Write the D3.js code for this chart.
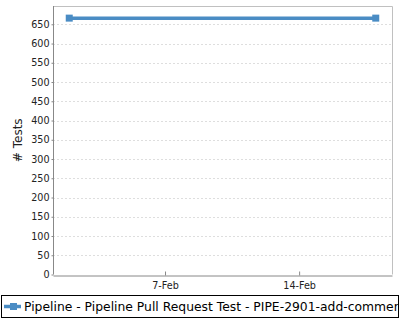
<!DOCTYPE html>
<html lang="en">
<head>
<meta charset="utf-8">
<script src="https://d3js.org/d3.v7.min.js"></script>
<style>
  body { margin: 0; background: #fff; }
  svg { display: block; font-family: "DejaVu Sans", sans-serif; }
</style>
</head>
<body>
<div id="chart"></div>
<script>
// data
const runDates = ["2019-02-02", "2019-02-18"];
const testCounts = [666, 666];
const seriesName = "Pipeline - Pipeline Pull Request Test - PIPE-2901-add-comments";
const xTickDates = ["2019-02-07", "2019-02-14"];
const yTickValues = [0, 50, 100, 150, 200, 250, 300, 350, 400, 450, 500, 550, 600, 650];
const yLabel = "# Tests";

const width = 400, height = 320;
const plot = { left: 53, top: 6, right: 392, bottom: 274.5 };
const blue = "#4a8cc4";

const parse = d3.timeParse("%Y-%m-%d");
const points = runDates.map((d, i) => ({ date: parse(d), value: testCounts[i] }));

const svg = d3.select("#chart").append("svg")
    .attr("width", width)
    .attr("height", height);

// ~5% margin on each side of the date range, like the original
const ext = d3.extent(points, d => d.date);
const pad = (ext[1] - ext[0]) * 0.053;
const x = d3.scaleTime()
    .domain([new Date(+ext[0] - pad), new Date(+ext[1] + pad)])
    .range([plot.left, plot.right]);
const y = d3.scaleLinear()
    .domain([0, 697.5])
    .range([plot.bottom, plot.top]);

// grid
svg.append("g")
    .selectAll("line")
    .data(yTickValues.filter(v => v > 0))
    .join("line")
    .attr("x1", plot.left).attr("x2", plot.right)
    .attr("y1", d => Math.round(y(d)) + 0.5).attr("y2", d => Math.round(y(d)) + 0.5)
    .attr("stroke", "#dedede")
    .attr("stroke-dasharray", "2,2");

// top + right border
svg.append("path")
    .attr("d", `M${plot.left},${plot.top + 0.5}H${plot.right + 0.5}V${plot.bottom}`)
    .attr("fill", "none")
    .attr("stroke", "#c0c0c0");

// y axis
const yAxis = svg.append("g")
    .attr("transform", `translate(${plot.left + 0.5},0)`)
    .call(d3.axisLeft(y).tickValues(yTickValues).tickSize(2).tickPadding(2).tickSizeOuter(0));
yAxis.select(".domain").attr("stroke", "#888").attr("d", `M0,${plot.top}V${plot.bottom}`);
yAxis.selectAll(".tick line").attr("stroke", "#888");
yAxis.selectAll("text").attr("font-size", 9.6).attr("fill", "#222")
    .attr("font-family", "DejaVu Sans");

// x axis
const xAxis = svg.append("g")
    .attr("transform", `translate(0,${Math.round(plot.bottom) + 0.5})`)
    .call(d3.axisBottom(x)
        .tickValues(xTickDates.map(parse))
        .tickFormat(d3.timeFormat("%-d-%b"))
        .tickSize(2).tickPadding(5).tickSizeOuter(0));
xAxis.select(".domain").attr("stroke", "#888");
xAxis.selectAll(".tick line").attr("stroke", "#888").attr("y2", -4);
xAxis.selectAll("text").attr("font-size", 9.6).attr("fill", "#222")
    .attr("font-family", "DejaVu Sans");

// y label
svg.append("text")
    .attr("transform", `translate(22,${(plot.top + plot.bottom) / 2}) rotate(-90)`)
    .attr("text-anchor", "middle")
    .attr("font-size", 12)
    .attr("fill", "#222")
    .text(yLabel);

// series
const line = d3.line().x(d => x(d.date)).y(d => y(d.value));
svg.append("path")
    .datum(points)
    .attr("d", line)
    .attr("fill", "none")
    .attr("stroke", blue)
    .attr("stroke-width", 3.5);
svg.append("g")
    .selectAll("rect")
    .data(points)
    .join("rect")
    .attr("x", d => x(d.date) - 3.5)
    .attr("y", d => y(d.value) - 3.5)
    .attr("width", 7).attr("height", 7)
    .attr("fill", blue);

// legend (the long series name is cut by the legend box, as in the original)
const legend = svg.append("g");
legend.append("clipPath").attr("id", "legclip")
    .append("rect").attr("x", 1).attr("y", 295).attr("width", 397.5).attr("height", 23);
legend.append("rect")
    .attr("x", 1.5).attr("y", 295.5).attr("width", 397).attr("height", 22)
    .attr("fill", "#fff").attr("stroke", "#000");
legend.append("line")
    .attr("x1", 4).attr("x2", 21).attr("y1", 306.5).attr("y2", 306.5)
    .attr("stroke", blue).attr("stroke-width", 3.5);
legend.append("rect")
    .attr("x", 10).attr("y", 303).attr("width", 7).attr("height", 7)
    .attr("fill", blue);
legend.append("text")
    .attr("x", 24).attr("y", 311)
    .attr("font-size", 12.35)
    .attr("fill", "#000")
    .attr("clip-path", "url(#legclip)")
    .text(seriesName);
</script>
</body>
</html>
